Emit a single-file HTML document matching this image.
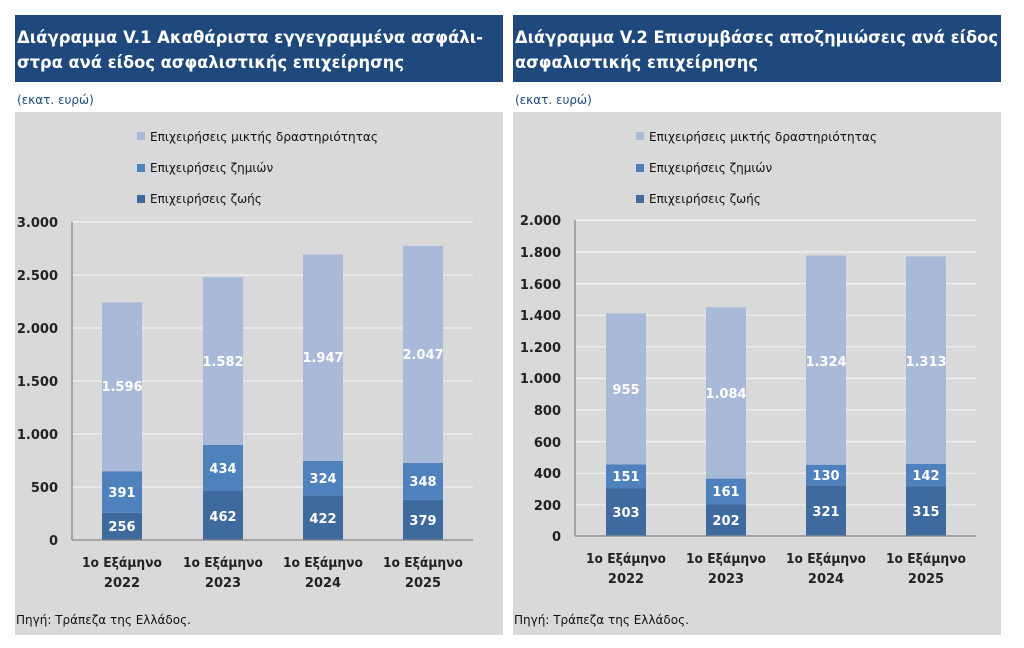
<!DOCTYPE html>
<html><head><meta charset="utf-8"><style>
html,body{margin:0;padding:0;background:#fff;}
svg{display:block;font-family:"DejaVu Sans","Liberation Sans",sans-serif;}
</style></head><body>
<svg width="1024" height="648" viewBox="0 0 1024 648">
<rect x="0" y="0" width="1024" height="648" fill="#fff"/>
<!-- LEFT -->
<rect x="15" y="15" width="488" height="67" fill="#1f497d"/>
<text x="17" y="43" font-size="16.5" font-weight="bold" fill="#fff" textLength="466" lengthAdjust="spacingAndGlyphs">Διάγραμμα V.1 Ακαθάριστα εγγεγραμμένα ασφάλι-</text>
<text x="17" y="68" font-size="16.5" font-weight="bold" fill="#fff" textLength="387" lengthAdjust="spacingAndGlyphs">στρα ανά είδος ασφαλιστικής επιχείρησης</text>
<text x="17" y="104" font-size="12" fill="#1f497d">(εκατ. ευρώ)</text>
<rect x="15" y="112" width="488" height="523" fill="#d9d9d9"/>
<g font-size="12" fill="#111">
<rect x="137" y="132" width="8" height="8" fill="#a9b9d8"/><text x="150" y="141" textLength="228" lengthAdjust="spacingAndGlyphs">Επιχειρήσεις μικτής δραστηριότητας</text>
<rect x="137" y="164" width="8" height="8" fill="#4f81bd"/><text x="150" y="172">Επιχειρήσεις ζημιών</text>
<rect x="137" y="195" width="8" height="8" fill="#3f6a9e"/><text x="150" y="203">Επιχειρήσεις ζωής</text>
</g>
<g stroke="#f2f2f2" stroke-width="1.2">
<line x1="72" x2="473" y1="222" y2="222"/><line x1="72" x2="473" y1="275" y2="275"/><line x1="72" x2="473" y1="328" y2="328"/><line x1="72" x2="473" y1="381" y2="381"/><line x1="72" x2="473" y1="434" y2="434"/><line x1="72" x2="473" y1="487" y2="487"/>
</g>
<g font-size="13" font-weight="bold" fill="#222" text-anchor="end">
<text x="58" y="227">3.000</text><text x="58" y="280">2.500</text><text x="58" y="333">2.000</text><text x="58" y="386">1.500</text><text x="58" y="439">1.000</text><text x="58" y="492">500</text><text x="58" y="545">0</text>
</g>
<rect x="102" y="512.9" width="40" height="27.1" fill="#3f6a9e"/><rect x="102" y="471.5" width="40" height="41.4" fill="#4f81bd"/><rect x="102" y="302.3" width="40" height="169.2" fill="#a9b9d8"/>
<rect x="203" y="491" width="40" height="49" fill="#3f6a9e"/><rect x="203" y="445" width="40" height="46" fill="#4f81bd"/><rect x="203" y="277.3" width="40" height="167.7" fill="#a9b9d8"/>
<rect x="303" y="495.3" width="40" height="44.7" fill="#3f6a9e"/><rect x="303" y="460.9" width="40" height="34.4" fill="#4f81bd"/><rect x="303" y="254.5" width="40" height="206.4" fill="#a9b9d8"/>
<rect x="403" y="499.8" width="40" height="40.2" fill="#3f6a9e"/><rect x="403" y="462.9" width="40" height="36.9" fill="#4f81bd"/><rect x="403" y="245.9" width="40" height="217" fill="#a9b9d8"/>
<line x1="72" x2="72" y1="222" y2="540" stroke="#888" stroke-width="1.3"/>
<line x1="72" x2="473" y1="540" y2="540" stroke="#888" stroke-width="1.3"/>
<g font-size="13" font-weight="bold" fill="#fff" text-anchor="middle">
<text x="122" y="531">256</text><text x="122" y="497">391</text><text x="122" y="391">1.596</text>
<text x="223" y="521">462</text><text x="223" y="473">434</text><text x="223" y="366">1.582</text>
<text x="323" y="523">422</text><text x="323" y="483">324</text><text x="323" y="362">1.947</text>
<text x="423" y="525">379</text><text x="423" y="486">348</text><text x="423" y="359">2.047</text>
</g>
<g font-size="13" font-weight="bold" fill="#222" text-anchor="middle">
<text x="122" y="567" textLength="80" lengthAdjust="spacingAndGlyphs">1ο Εξάμηνο</text><text x="122" y="587">2022</text>
<text x="223" y="567" textLength="80" lengthAdjust="spacingAndGlyphs">1ο Εξάμηνο</text><text x="223" y="587">2023</text>
<text x="323" y="567" textLength="80" lengthAdjust="spacingAndGlyphs">1ο Εξάμηνο</text><text x="323" y="587">2024</text>
<text x="423" y="567" textLength="80" lengthAdjust="spacingAndGlyphs">1ο Εξάμηνο</text><text x="423" y="587">2025</text>
</g>
<text x="16" y="624" font-size="12" fill="#111">Πηγή: Τράπεζα της Ελλάδος.</text>

<!-- RIGHT -->
<rect x="513" y="15" width="488" height="67" fill="#1f497d"/>
<text x="515" y="43" font-size="16.5" font-weight="bold" fill="#fff" textLength="483" lengthAdjust="spacingAndGlyphs">Διάγραμμα V.2 Επισυμβάσες αποζημιώσεις ανά είδος</text>
<text x="515" y="68" font-size="16.5" font-weight="bold" fill="#fff" textLength="243" lengthAdjust="spacingAndGlyphs">ασφαλιστικής επιχείρησης</text>
<text x="515" y="104" font-size="12" fill="#1f497d">(εκατ. ευρώ)</text>
<rect x="513" y="112" width="488" height="523" fill="#d9d9d9"/>
<g font-size="12" fill="#111">
<rect x="636" y="132" width="8" height="8" fill="#a9b9d8"/><text x="649" y="141" textLength="228" lengthAdjust="spacingAndGlyphs">Επιχειρήσεις μικτής δραστηριότητας</text>
<rect x="636" y="164" width="8" height="8" fill="#4f81bd"/><text x="649" y="172">Επιχειρήσεις ζημιών</text>
<rect x="636" y="195" width="8" height="8" fill="#3f6a9e"/><text x="649" y="203">Επιχειρήσεις ζωής</text>
</g>
<g stroke="#f2f2f2" stroke-width="1.2">
<line x1="575" x2="976" y1="220.4" y2="220.4"/><line x1="575" x2="976" y1="252" y2="252"/><line x1="575" x2="976" y1="283.6" y2="283.6"/><line x1="575" x2="976" y1="315.2" y2="315.2"/><line x1="575" x2="976" y1="346.8" y2="346.8"/><line x1="575" x2="976" y1="378.4" y2="378.4"/><line x1="575" x2="976" y1="410" y2="410"/><line x1="575" x2="976" y1="441.6" y2="441.6"/><line x1="575" x2="976" y1="473.2" y2="473.2"/><line x1="575" x2="976" y1="504.8" y2="504.8"/>
</g>
<g font-size="13" font-weight="bold" fill="#222" text-anchor="end">
<text x="561" y="225">2.000</text><text x="561" y="257">1.800</text><text x="561" y="289">1.600</text><text x="561" y="320">1.400</text><text x="561" y="352">1.200</text><text x="561" y="383">1.000</text><text x="561" y="415">800</text><text x="561" y="447">600</text><text x="561" y="478">400</text><text x="561" y="510">200</text><text x="561" y="541">0</text>
</g>
<rect x="606" y="488.1" width="40" height="47.9" fill="#3f6a9e"/><rect x="606" y="464.3" width="40" height="23.9" fill="#4f81bd"/><rect x="606" y="313.4" width="40" height="150.9" fill="#a9b9d8"/>
<rect x="706" y="504.1" width="40" height="31.9" fill="#3f6a9e"/><rect x="706" y="478.6" width="40" height="25.4" fill="#4f81bd"/><rect x="706" y="307.3" width="40" height="171.3" fill="#a9b9d8"/>
<rect x="806" y="485.3" width="40" height="50.7" fill="#3f6a9e"/><rect x="806" y="464.7" width="40" height="20.5" fill="#4f81bd"/><rect x="806" y="255.5" width="40" height="209.2" fill="#a9b9d8"/>
<rect x="906" y="486.2" width="40" height="49.8" fill="#3f6a9e"/><rect x="906" y="463.8" width="40" height="22.4" fill="#4f81bd"/><rect x="906" y="256.4" width="40" height="207.5" fill="#a9b9d8"/>
<line x1="575" x2="575" y1="220" y2="536" stroke="#888" stroke-width="1.3"/>
<line x1="575" x2="976" y1="536" y2="536" stroke="#888" stroke-width="1.3"/>
<g font-size="13" font-weight="bold" fill="#fff" text-anchor="middle">
<text x="626" y="517">303</text><text x="626" y="481">151</text><text x="626" y="394">955</text>
<text x="726" y="525">202</text><text x="726" y="496">161</text><text x="726" y="398">1.084</text>
<text x="826" y="516">321</text><text x="826" y="480">130</text><text x="826" y="366">1.324</text>
<text x="926" y="516">315</text><text x="926" y="480">142</text><text x="926" y="366">1.313</text>
</g>
<g font-size="13" font-weight="bold" fill="#222" text-anchor="middle">
<text x="626" y="563" textLength="80" lengthAdjust="spacingAndGlyphs">1ο Εξάμηνο</text><text x="626" y="583">2022</text>
<text x="726" y="563" textLength="80" lengthAdjust="spacingAndGlyphs">1ο Εξάμηνο</text><text x="726" y="583">2023</text>
<text x="826" y="563" textLength="80" lengthAdjust="spacingAndGlyphs">1ο Εξάμηνο</text><text x="826" y="583">2024</text>
<text x="926" y="563" textLength="80" lengthAdjust="spacingAndGlyphs">1ο Εξάμηνο</text><text x="926" y="583">2025</text>
</g>
<text x="514" y="624" font-size="12" fill="#111">Πηγή: Τράπεζα της Ελλάδος.</text>
</svg>
</body></html>
